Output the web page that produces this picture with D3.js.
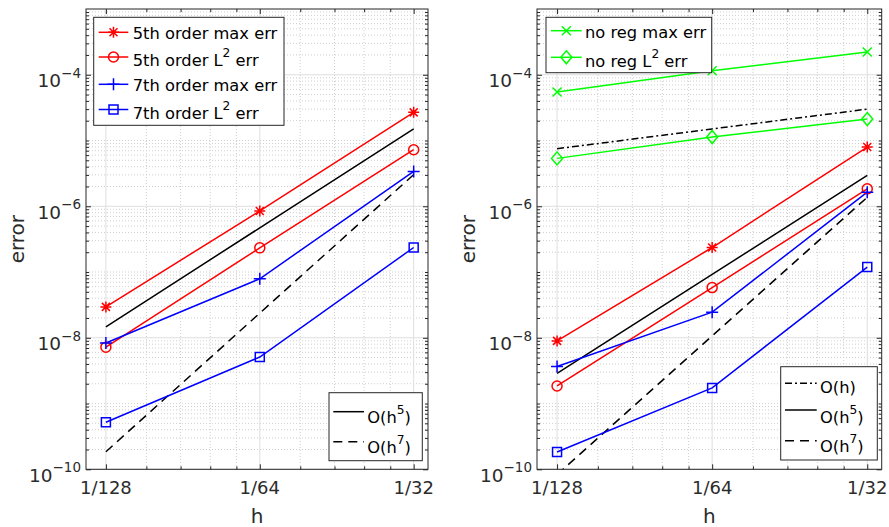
<!DOCTYPE html>
<html>
<head>
<meta charset="utf-8">
<script src="https://cdn.jsdelivr.net/npm/d3@7"></script>
<style>
  html, body { margin: 0; padding: 0; background: #fff; }
  svg { display: block; }
</style>
</head>
<body>
<svg id="chart" width="889" height="527"></svg>
<script>
// ---------------- DATA ----------------
const hValues = [1/128, 1/64, 1/32];
const hTickLabels = ["1/128", "1/64", "1/32"];
const yTickExponents = [-10, -8, -6, -4];

// Left panel
const left5thMax   = [2.95e-8, 8.5e-7, 2.68e-5];
const left5thL2    = [7.2e-9, 2.33e-7, 7.24e-6];
const left7thMax   = [8.35e-9, 7.9e-8, 3.39e-6];
const left7thL2    = [5.19e-10, 5.1e-9, 2.36e-7];
const leftOh5      = [1.47e-8, 4.7e-7, 1.5e-5];
const leftOh7      = [1.85e-10, 2.37e-8, 3.03e-6];

// Right panel
const rightNoRegMax = [5.47e-5, 1.15e-4, 2.22e-4];
const rightNoRegL2  = [5.35e-6, 1.13e-5, 2.12e-5];
const rightOh1      = [7.5e-6, 1.5e-5, 3.0e-5];
const right5thMax   = [8.97e-9, 2.36e-7, 7.96e-6];
const right5thL2    = [1.85e-9, 5.8e-8, 1.84e-6];
const right7thMax   = [3.65e-9, 2.45e-8, 1.64e-6];
const right7thL2    = [1.83e-10, 1.73e-9, 1.19e-7];
const rightOh5      = [2.88e-9, 9.2e-8, 2.95e-6];
const rightOh7      = [8.3e-11, 1.07e-8, 1.37e-6];

// ---------------- STYLE / LAYOUT ----------------
const RED = "#ff0000", BLUE = "#0000ff", GREEN = "#00ff00", BLACK = "#000000";
const AXC = "#262626";
const TXT = "#2b2b2b";
const FONT = "'DejaVu Sans', sans-serif";
const xDomain = [1/140, 1/30];
const yDomain = [1e-10, 1e-3];
const plotTop = 9, plotBottom = 469.3;

const svg = d3.select("#chart");

function markerPath(type) {
  switch (type) {
    case "star": return "M-5.5,0H5.5M0,-5.5V5.5M-4,-4L4,4M-4,4L4,-4";
    case "plus": return "M-6,0H6M0,-6V6";
    case "x": return "M-4.5,-4.5L4.5,4.5M-4.5,4.5L4.5,-4.5";
    case "square": return "M-4.5,-4.5H4.5V4.5H-4.5Z";
    case "diamond": return "M0,-6.5L5.5,0L0,6.5L-5.5,0Z";
    case "circle": return "M5,0A5,5 0 1,1 -5,0A5,5 0 1,1 5,0Z";
  }
  return null;
}

function drawMarker(g, type, x, y, color) {
  if (!type) return;
  g.append("path").attr("d", markerPath(type))
    .attr("transform", `translate(${x},${y})`)
    .attr("fill", "none").attr("stroke", color).attr("stroke-width", 1.5);
}

function addRichText(g, x, y, parts, size, anchor, color) {
  const t = g.append("text").attr("x", x).attr("y", y)
    .attr("font-family", FONT).attr("font-size", size)
    .attr("fill", color).attr("text-anchor", anchor);
  let shifted = 0;
  parts.forEach(p => {
    const ts = t.append("tspan").text(p.t);
    if (p.sup) {
      const up = size * 0.55;
      ts.attr("font-size", size * 0.75).attr("dy", -up);
      shifted = up;
    } else if (shifted !== 0) {
      ts.attr("dy", shifted); shifted = 0;
    }
  });
  return t;
}

function drawPanel(id, x0, x1, series, legends) {
  const g = svg.append("g");
  const x = d3.scaleLog().base(2).domain(xDomain).range([x0, x1]);
  const y = d3.scaleLog().domain(yDomain).range([plotBottom, plotTop]);

  const xMinor = [];
  hValues.forEach(h => [1.2, 1.4, 1.6, 1.8].forEach(k => {
    const v = h * k; if (v > xDomain[0] && v < xDomain[1]) xMinor.push(v);
  }));
  const yMinor = [];
  for (let e = -10; e < -3; e++) {
    for (let k = 2; k <= 9; k++) yMinor.push(k * Math.pow(10, e));
    if (e % 2 !== 0) yMinor.push(Math.pow(10, e));
  }
  const yMajor = yTickExponents.map(e => Math.pow(10, e));

  // minor grid
  g.append("g").selectAll("line").data(xMinor).join("line")
    .attr("x1", d => x(d)).attr("x2", d => x(d)).attr("y1", plotTop).attr("y2", plotBottom)
    .attr("stroke", "#cfcfcf").attr("stroke-width", 1).attr("stroke-dasharray", "1,2");
  g.append("g").selectAll("line").data(yMinor).join("line")
    .attr("y1", d => y(d)).attr("y2", d => y(d)).attr("x1", x0).attr("x2", x1)
    .attr("stroke", "#cfcfcf").attr("stroke-width", 1).attr("stroke-dasharray", "1,2");
  // major grid
  g.append("g").selectAll("line").data(hValues).join("line")
    .attr("x1", d => x(d)).attr("x2", d => x(d)).attr("y1", plotTop).attr("y2", plotBottom)
    .attr("stroke", "#dedede").attr("stroke-width", 1);
  g.append("g").selectAll("line").data(yMajor).join("line")
    .attr("y1", d => y(d)).attr("y2", d => y(d)).attr("x1", x0).attr("x2", x1)
    .attr("stroke", "#dedede").attr("stroke-width", 1);

  // axes via d3 axis (ticks inside)
  const axB = d3.axisBottom(x).tickValues(hValues).tickFormat("").tickSizeInner(-5).tickSizeOuter(0);
  const axT = d3.axisTop(x).tickValues(hValues).tickFormat("").tickSizeInner(-5).tickSizeOuter(0);
  const axBm = d3.axisBottom(x).tickValues(xMinor).tickFormat("").tickSizeInner(-3).tickSizeOuter(0);
  const axTm = d3.axisTop(x).tickValues(xMinor).tickFormat("").tickSizeInner(-3).tickSizeOuter(0);
  const axL = d3.axisLeft(y).tickValues(yMajor).tickFormat("").tickSizeInner(-5).tickSizeOuter(0);
  const axR = d3.axisRight(y).tickValues(yMajor).tickFormat("").tickSizeInner(-5).tickSizeOuter(0);
  const axLm = d3.axisLeft(y).tickValues(yMinor).tickFormat("").tickSizeInner(-3).tickSizeOuter(0);
  const axRm = d3.axisRight(y).tickValues(yMinor).tickFormat("").tickSizeInner(-3).tickSizeOuter(0);
  [[axB, `translate(0,${plotBottom})`], [axBm, `translate(0,${plotBottom})`],
   [axT, `translate(0,${plotTop})`], [axTm, `translate(0,${plotTop})`],
   [axL, `translate(${x0},0)`], [axLm, `translate(${x0},0)`],
   [axR, `translate(${x1},0)`], [axRm, `translate(${x1},0)`]].forEach(([ax, tr]) => {
    const a = g.append("g").attr("transform", tr).call(ax);
    a.select(".domain").remove();
    a.selectAll("line").attr("stroke", AXC).attr("stroke-width", 1);
  });

  g.append("rect").attr("x", x0).attr("y", plotTop).attr("width", x1 - x0).attr("height", plotBottom - plotTop)
    .attr("fill", "none").attr("stroke", AXC).attr("stroke-width", 1);

  // tick labels
  hValues.forEach((h, i) => {
    g.append("text").attr("x", x(h)).attr("y", plotBottom + 25)
      .attr("font-family", FONT).attr("font-size", 18).attr("fill", TXT)
      .attr("text-anchor", "middle").text(hTickLabels[i]);
  });
  yTickExponents.forEach(e => {
    const yy = y(Math.pow(10, e));
    const t = g.append("text").attr("x", x0 - 5).attr("y", yy + 12.5)
      .attr("font-family", FONT).attr("font-size", 18.5).attr("fill", TXT).attr("text-anchor", "end");
    t.append("tspan").text("10");
    t.append("tspan").attr("font-size", 13.5).attr("dy", -9.5).text("\u2212" + Math.abs(e));
  });

  // axis labels
  g.append("text").attr("x", (x0 + x1) / 2).attr("y", 523)
    .attr("font-family", FONT).attr("font-size", 20).attr("fill", TXT)
    .attr("text-anchor", "middle").text("h");
  g.append("text").attr("transform", `translate(${x0 - 62},${(plotTop + plotBottom) / 2}) rotate(-90)`)
    .attr("font-family", FONT).attr("font-size", 20).attr("fill", TXT)
    .attr("text-anchor", "middle").text("error");

  svg.append("clipPath").attr("id", "clip" + id).append("rect")
    .attr("x", x0).attr("y", plotTop).attr("width", x1 - x0).attr("height", plotBottom - plotTop);

  const line = d3.line().x(d => x(d[0])).y(d => y(d[1]));
  const plot = g.append("g").attr("clip-path", `url(#clip${id})`);
  series.forEach(s => {
    const pts = hValues.map((h, i) => [h, s.values[i]]);
    plot.append("path").attr("d", line(pts)).attr("fill", "none")
      .attr("stroke", s.color).attr("stroke-width", 1.5)
      .attr("stroke-dasharray", s.dash || null);
  });
  series.forEach(s => {
    if (!s.marker) return;
    hValues.forEach((h, i) => drawMarker(g, s.marker, x(h), y(s.values[i]), s.color));
  });

  legends.forEach(L => {
    const lg = g.append("g");
    lg.append("rect").attr("x", L.box[0]).attr("y", L.box[1]).attr("width", L.box[2]).attr("height", L.box[3])
      .attr("fill", "#fff").attr("stroke", AXC).attr("stroke-width", 1);
    L.items.forEach((it, i) => {
      const ly = L.lineY[i];
      lg.append("line").attr("x1", L.lineX[0]).attr("x2", L.lineX[1]).attr("y1", ly).attr("y2", ly)
        .attr("stroke", it.color).attr("stroke-width", 1.5).attr("stroke-dasharray", it.dash || null);
      drawMarker(lg, it.marker, (L.lineX[0] + L.lineX[1]) / 2, ly, it.color);
      addRichText(lg, L.textX, L.baseY[i], it.label, 16.3, "start", "#000");
    });
  });
}

const sLeft = [
  { values: left5thMax, color: RED, marker: "star" },
  { values: leftOh5, color: BLACK },
  { values: left5thL2, color: RED, marker: "circle" },
  { values: left7thMax, color: BLUE, marker: "plus" },
  { values: leftOh7, color: BLACK, dash: "9,6" },
  { values: left7thL2, color: BLUE, marker: "square" }
];
const sRight = [
  { values: rightNoRegMax, color: GREEN, marker: "x" },
  { values: rightOh1, color: BLACK, dash: "7,3,2,3" },
  { values: rightNoRegL2, color: GREEN, marker: "diamond" },
  { values: right5thMax, color: RED, marker: "star" },
  { values: rightOh5, color: BLACK },
  { values: right5thL2, color: RED, marker: "circle" },
  { values: right7thMax, color: BLUE, marker: "plus" },
  { values: rightOh7, color: BLACK, dash: "9,6" },
  { values: right7thL2, color: BLUE, marker: "square" }
];

drawPanel("L", 86, 428, sLeft, [
  { box: [93.7, 17.3, 190.3, 108], lineX: [98.7, 128.3], textX: 132.7,
    lineY: [32.3, 57, 84.3, 109.5], baseY: [38.5, 66, 90.5, 118.5],
    items: [
      { color: RED, marker: "star", label: [{t: "5th order max err"}] },
      { color: RED, marker: "circle", label: [{t: "5th order L"}, {t: "2", sup: true}, {t: " err"}] },
      { color: BLUE, marker: "plus", label: [{t: "7th order max err"}] },
      { color: BLUE, marker: "square", label: [{t: "7th order L"}, {t: "2", sup: true}, {t: " err"}] }
    ] },
  { box: [329, 392.7, 93.3, 68], lineX: [333.3, 364], textX: 367.3,
    lineY: [411.7, 441.7], baseY: [422.7, 452.7],
    items: [
      { color: BLACK, label: [{t: "O(h"}, {t: "5", sup: true}, {t: ")"}] },
      { color: BLACK, dash: "9,6", label: [{t: "O(h"}, {t: "7", sup: true}, {t: ")"}] }
    ] }
]);

drawPanel("R", 537, 881.7, sRight, [
  { box: [546, 17.3, 165.7, 55.4], lineX: [551, 581.7], textX: 585,
    lineY: [30.7, 57.3], baseY: [37.7, 66.7],
    items: [
      { color: GREEN, marker: "x", label: [{t: "no reg max err"}] },
      { color: GREEN, marker: "diamond", label: [{t: "no reg L"}, {t: "2", sup: true}, {t: " err"}] }
    ] },
  { box: [780.7, 366.7, 96.6, 93.3], lineX: [785, 816.7], textX: 820,
    lineY: [383.3, 410, 440.7], baseY: [393.3, 423.3, 452],
    items: [
      { color: BLACK, dash: "7,3,2,3", label: [{t: "O(h)"}] },
      { color: BLACK, label: [{t: "O(h"}, {t: "5", sup: true}, {t: ")"}] },
      { color: BLACK, dash: "9,6", label: [{t: "O(h"}, {t: "7", sup: true}, {t: ")"}] }
    ] }
]);
</script>
</body>
</html>
